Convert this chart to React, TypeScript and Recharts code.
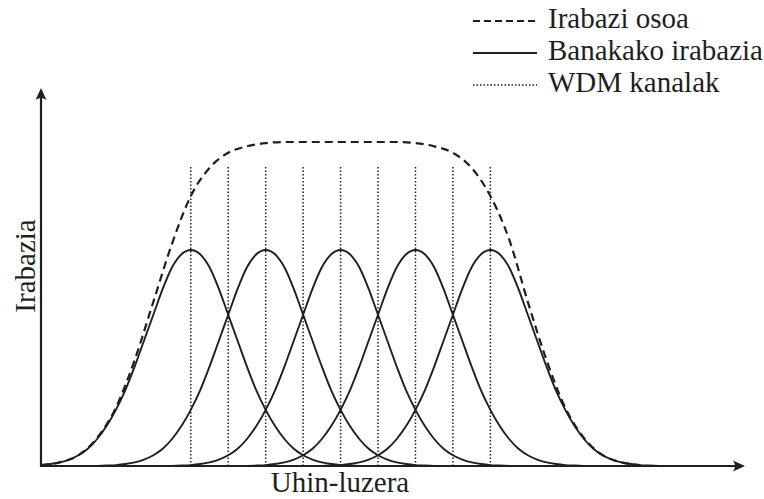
import { ComposedChart, Line, XAxis, YAxis, ReferenceLine } from "recharts";

// x in channel-spacing units (0 = vertical axis), y = gain relative to one channel peak
const X_MAX = 9.4;
const Y_MAX = 1.75;

const CHANNEL_CENTERS = [2, 3, 4, 5, 6];
const WDM_GRID = [2, 2.5, 3, 3.5, 4, 4.5, 5, 5.5, 6];
const WDM_TOP = 1.39;

// one channel's gain vs. distance from its centre, every 0.125 units
const PROFILE_STEP = 0.125;
const GAIN_PROFILE = [
    1.0, 0.98, 0.92, 0.82, 0.7, 0.58, 0.46, 0.35, 0.26, 0.185,
    0.125, 0.08, 0.05, 0.03, 0.017, 0.009, 0.004, 0.002, 0,
];

// total gain envelope, every 0.25 units from x = 0
const TOTAL_STEP = 0.25;
const TOTAL_GAIN = [
    0.004, 0.017, 0.05, 0.13, 0.27, 0.49, 0.76, 1.03, 1.25, 1.38,
    1.45, 1.48, 1.495, 1.5, 1.5, 1.5, 1.5, 1.5, 1.5, 1.5,
    1.495, 1.48, 1.45, 1.38, 1.25, 1.05, 0.76, 0.49, 0.27, 0.13,
    0.05, 0.017, 0.004,
];

const LEGEND_LABELS = ["Irabazi osoa", "Banakako irabazia", "WDM kanalak"];
const X_TITLE = "Uhin-luzera";
const Y_TITLE = "Irabazia";

const INK = "#1f1f1f";
const FONT = "Liberation Serif";

function buildRows() {
    const rows: any[] = [];
    const n = Math.round(X_MAX / PROFILE_STEP);
    for (let i = 0; i <= n; i++) {
        const u = i * PROFILE_STEP;
        const row: any = { u };
        CHANNEL_CENTERS.forEach((c, k) => {
            const idx = Math.round(Math.abs(u - c) / PROFILE_STEP);
            row[`ch${k}`] = idx < GAIN_PROFILE.length ? GAIN_PROFILE[idx] : null;
        });
        const t = u / TOTAL_STEP;
        row.total = Number.isInteger(t) && t < TOTAL_GAIN.length ? TOTAL_GAIN[t] : null;
        rows.push(row);
    }
    return rows;
}

const AxisArrow = (props: any) => {
    const { x1, y1, x2, y2 } = props;
    const horizontal = Math.abs(y1 - y2) < 0.5;
    if (horizontal) {
        const tx = Math.max(x1, x2);
        const sx = Math.min(x1, x2);
        const y = y1;
        return (
            <g>
                <line x1={sx - 1} y1={y} x2={tx - 6} y2={y} stroke={INK} strokeWidth={2.2} />
                <path d={`M${tx},${y} L${tx - 12},${y - 5.5} Q${tx - 8},${y} ${tx - 12},${y + 5.5} Z`} fill={INK} />
            </g>
        );
    }
    const ty = Math.min(y1, y2);
    const sy = Math.max(y1, y2);
    const x = x1;
    return (
        <g>
            <line x1={x} y1={sy + 1} x2={x} y2={ty + 6} stroke={INK} strokeWidth={2.2} />
            <path d={`M${x},${ty} L${x - 5.5},${ty + 12} Q${x},${ty + 8} ${x + 5.5},${ty + 12} Z`} fill={INK} />
        </g>
    );
};

export default function App() {
    const rows = buildRows();
    const legendDash = ["7 4", undefined, "1.5 2"];
    return (
        <div style={{ position: "absolute", left: 0, top: 0, width: 764, height: 499, background: "#fff" }}>
            <ComposedChart
                width={764}
                height={499}
                data={rows}
                margin={{ top: 88, right: 19, bottom: 33, left: 41 }}
            >
                <XAxis dataKey="u" type="number" domain={[0, X_MAX]} hide />
                <YAxis type="number" domain={[0, Y_MAX]} hide />
                {WDM_GRID.map((g) => (
                    <ReferenceLine
                        key={`wdm-${g}`}
                        segment={[{ x: g, y: 0 }, { x: g, y: WDM_TOP }]}
                        stroke="#222"
                        strokeWidth={1.5}
                        strokeDasharray="1.5 2"
                    />
                ))}
                <Line
                    dataKey="total"
                    type="monotone"
                    connectNulls
                    dot={false}
                    stroke={INK}
                    strokeWidth={2.2}
                    strokeDasharray="8 5"
                    isAnimationActive={false}
                />
                {CHANNEL_CENTERS.map((c, k) => (
                    <Line
                        key={`ch-${c}`}
                        dataKey={`ch${k}`}
                        type="monotone"
                        dot={false}
                        stroke={INK}
                        strokeWidth={1.9}
                        isAnimationActive={false}
                    />
                ))}
                <ReferenceLine y={0} shape={AxisArrow} />
                <ReferenceLine x={0} shape={AxisArrow} />
            </ComposedChart>
            <svg
                width={764}
                height={499}
                style={{ position: "absolute", left: 0, top: 0, pointerEvents: "none" }}
            >
                {LEGEND_LABELS.map((label, i) => {
                    const base = 28 + i * 32;
                    return (
                        <g key={label}>
                            <line
                                x1={473}
                                x2={537}
                                y1={base - 7}
                                y2={base - 7}
                                stroke={INK}
                                strokeWidth={i === 2 ? 1.4 : 2}
                                strokeDasharray={legendDash[i]}
                            />
                            <text x={548} y={base} fontFamily={FONT} fontSize={29} fill={INK}>
                                {label}
                            </text>
                        </g>
                    );
                })}
                <text x={340} y={492} textAnchor="middle" fontFamily={FONT} fontSize={29} fill={INK}>
                    {X_TITLE}
                </text>
                <text
                    x={35}
                    y={266}
                    textAnchor="middle"
                    transform="rotate(-90 35 266)"
                    fontFamily={FONT}
                    fontSize={29}
                    fill={INK}
                >
                    {Y_TITLE}
                </text>
            </svg>
        </div>
    );
}
